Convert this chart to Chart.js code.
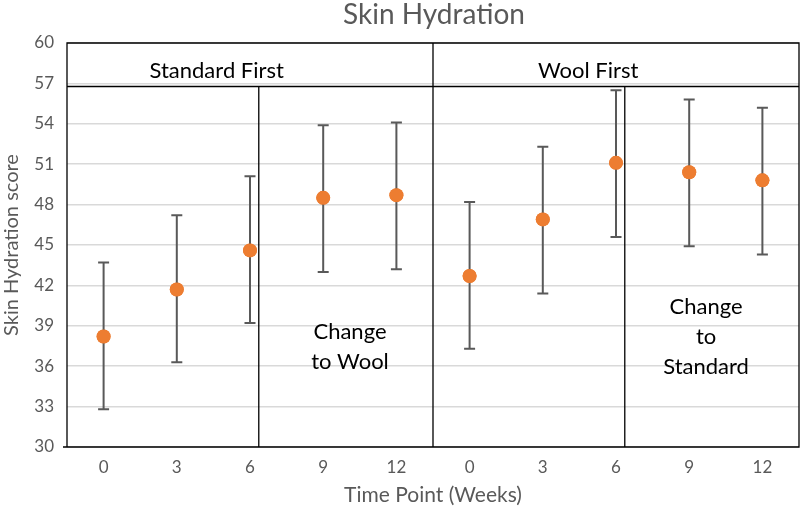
<!DOCTYPE html>
<html>
<head>
<meta charset="utf-8">
<script src="https://cdn.jsdelivr.net/npm/chart.js@4/dist/chart.umd.min.js"></script>
<style>
  html, body { margin: 0; padding: 0; background: #fff; }
  #wrap { width: 800px; height: 512px; position: relative; }
</style>
</head>
<body>
<div id="wrap"><canvas id="c" width="800" height="512"></canvas></div>
<script>
// ---- data ----
const weekLabels = ["0", "3", "6", "9", "12", "0", "3", "6", "9", "12"];
const meanScore  = [38.2, 41.7, 44.6, 48.5, 48.7, 42.7, 46.9, 51.1, 50.4, 49.8];
const upperBar   = [43.7, 47.2, 50.1, 53.9, 54.1, 48.2, 52.3, 56.5, 55.8, 55.2];
const lowerBar   = [32.8, 36.3, 39.2, 43.0, 43.2, 37.3, 41.4, 45.6, 44.9, 44.3];
const groupNames = ["Standard First", "Wool First"];
const changeNotes = [["Change", "to Wool"], ["Change", "to", "Standard"]];
const yTicks = { min: 30, max: 60, step: 3 };

const FONT = "Lato, 'Open Sans', sans-serif";
const GRAY = "#595959";

const points = meanScore.map((v, i) => ({ x: i, y: v }));

const overlay = {
  id: "overlay",
  afterDatasetsDraw(chart) {
    const ctx = chart.ctx;
    const xs = chart.scales.x, ys = chart.scales.y;
    const a = chart.chartArea;
    ctx.save();
    // error bars
    ctx.strokeStyle = GRAY;
    ctx.lineWidth = 2;
    for (let i = 0; i < meanScore.length; i++) {
      const px = xs.getPixelForValue(i);
      const top = ys.getPixelForValue(upperBar[i]);
      const bot = ys.getPixelForValue(lowerBar[i]);
      ctx.beginPath();
      ctx.moveTo(px, top); ctx.lineTo(px, bot);
      ctx.moveTo(px - 5.5, top); ctx.lineTo(px + 5.5, top);
      ctx.moveTo(px - 5.5, bot); ctx.lineTo(px + 5.5, bot);
      ctx.stroke();
    }
    // redraw the points above the bars
    const meta = chart.getDatasetMeta(0);
    meta.data.forEach(el => el.draw(ctx, a));
    // table-like frame
    ctx.strokeStyle = "#000";
    ctx.lineWidth = 1.3;
    const hY = ys.getPixelForValue(56.77);
    const midX = xs.getPixelForValue(4.5);
    const v1 = xs.getPixelForValue(2.12);
    const v2 = xs.getPixelForValue(7.12);
    ctx.beginPath();
    ctx.rect(a.left, a.top, a.right - a.left, a.bottom - a.top);
    ctx.moveTo(a.left, hY); ctx.lineTo(a.right, hY);
    ctx.moveTo(midX, a.top); ctx.lineTo(midX, a.bottom);
    ctx.moveTo(v1, hY); ctx.lineTo(v1, a.bottom);
    ctx.moveTo(v2, hY); ctx.lineTo(v2, a.bottom);
    ctx.moveTo(a.left - 4, a.bottom); ctx.lineTo(a.left, a.bottom);
    ctx.stroke();
    // texts
    ctx.fillStyle = "#000";
    ctx.textAlign = "center";
    ctx.textBaseline = "alphabetic";
    ctx.font = "22px " + FONT;
    ctx.fillText(groupNames[0], xs.getPixelForValue(1.545), ys.getPixelForValue(57.40));
    ctx.fillText(groupNames[1], xs.getPixelForValue(6.62), ys.getPixelForValue(57.40));
    const n1y = [38.00, 35.82];
    changeNotes[0].forEach((t, k) => ctx.fillText(t, xs.getPixelForValue(3.366), ys.getPixelForValue(n1y[k])));
    const n2y = [39.91, 37.68, 35.45];
    changeNotes[1].forEach((t, k) => ctx.fillText(t, xs.getPixelForValue(8.23), ys.getPixelForValue(n2y[k])));
    // title
    ctx.fillStyle = GRAY;
    ctx.font = "28px " + FONT;
    ctx.fillText("Skin Hydration", 434, 24);
    ctx.restore();
  }
};

new Chart(document.getElementById("c"), {
  type: "scatter",
  data: {
    datasets: [{
      data: points,
      pointRadius: 7,
      pointHoverRadius: 7,
      pointBackgroundColor: "#ED7D31",
      pointBorderColor: "#ED7D31",
      pointBorderWidth: 0
    }]
  },
  options: {
    responsive: false,
    animation: false,
    layout: { autoPadding: false, padding: { top: 43, right: 1, left: 0, bottom: 0 } },
    plugins: { legend: { display: false }, title: { display: false }, tooltip: { enabled: false } },
    scales: {
      x: {
        type: "linear",
        min: -0.5, max: 9.5,
        afterFit: s => { s.height = 65; s.paddingLeft = 0; s.paddingRight = 0; },
        afterBuildTicks: s => { s.ticks = weekLabels.map((_, i) => ({ value: i })); },
        ticks: {
          callback: (v) => weekLabels[v] ?? "",
          color: GRAY, font: { family: FONT, size: 17 }, padding: 10, maxRotation: 0, autoSkip: false
        },
        grid: { display: false, drawTicks: false },
        border: { display: false },
        title: { display: true, text: "Time Point (Weeks)", color: GRAY, font: { family: FONT, size: 21 }, padding: { top: 3 } }
      },
      y: {
        min: yTicks.min, max: yTicks.max,
        afterFit: s => { s.width = 67; s.paddingTop = 0; s.paddingBottom = 0; },
        ticks: { stepSize: yTicks.step, color: GRAY, font: { family: FONT, size: 17 }, padding: 13 },
        grid: { color: "#d9d9d9", lineWidth: 1.5, drawTicks: false },
        border: { display: false },
        title: { display: true, text: "Skin Hydration score", color: GRAY, font: { family: FONT, size: 20 }, padding: 0 }
      }
    }
  },
  plugins: [overlay]
});
</script>
</body>
</html>
